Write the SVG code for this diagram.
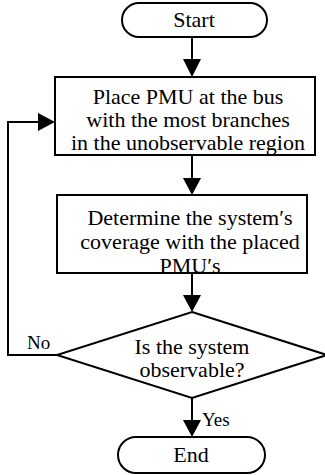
<svg xmlns="http://www.w3.org/2000/svg" width="325" height="475" viewBox="0 0 325 475">
<style>
.s{fill:#fff;stroke:#000;stroke-width:2}
.t{font-family:"Liberation Serif","Times New Roman",serif;font-size:22px;fill:#000;text-anchor:middle}
.l{font-family:"Liberation Serif","Times New Roman",serif;font-size:19px;fill:#000}
.c{fill:none;stroke:#000;stroke-width:2}
.h{fill:#000;stroke:none}
</style>
<rect width="325" height="475" fill="#fff"/>
<g id="connectors">
<line class="c" x1="192" y1="37" x2="192" y2="60"/>
<polygon class="h" points="183,59 201,59 192,77"/>
<line class="c" x1="192" y1="155" x2="192" y2="179"/>
<polygon class="h" points="183,178 201,178 192,195"/>
<line class="c" x1="192" y1="273" x2="192" y2="296"/>
<polygon class="h" points="183,295 201,295 192,312"/>
<polyline class="c" points="57,355 8,355 8,122 39,122"/>
<polygon class="h" points="38,113 38,131 55,122"/>
<line class="c" x1="192" y1="398" x2="192" y2="421"/>
<polygon class="h" points="183,420 201,420 192,437"/>
<text class="l" x="27" y="349">No</text>
<text class="l" x="202" y="426">Yes</text>
</g>
<g id="start">
<rect class="s" x="122" y="3" width="145" height="34" rx="17"/>
<text class="t" x="194" y="27">Start</text>
</g>
<g id="place">
<rect class="s" x="55" y="77" width="260" height="78"/>
<text class="t" x="188" y="104">Place PMU at the bus</text>
<text class="t" x="188" y="127">with the most branches</text>
<text class="t" x="188" y="150">in the unobservable region</text>
</g>
<g id="determine">
<rect class="s" x="57" y="195" width="250" height="78"/>
<text class="t" x="190" y="225">Determine the system′s</text>
<text class="t" x="190" y="249">coverage with the placed</text>
<text class="t" x="190" y="273">PMU′s</text>
</g>
<g id="decision">
<polygon class="s" points="192,312 327,355 192,398 57,355"/>
<text class="t" x="192" y="354">Is the system</text>
<text class="t" x="192" y="377">observable?</text>
</g>
<g id="end">
<rect class="s" x="118" y="437" width="147" height="36" rx="18"/>
<text class="t" x="191" y="462">End</text>
</g>
</svg>
